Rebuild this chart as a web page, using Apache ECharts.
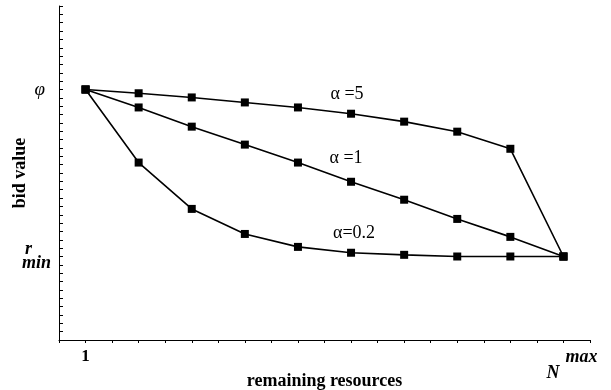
<!DOCTYPE html>
<html>
<head>
<meta charset="utf-8">
<script src="https://cdn.jsdelivr.net/npm/echarts@6/dist/echarts.min.js"></script>
<style>html,body{margin:0;padding:0;background:#fff}#c{width:611px;height:390px}</style>
</head>
<body>
<div id="c"></div>
<script>
var resources = [1, 2, 3, 4, 5, 6, 7, 8, 9, 10];
var alpha5  = [6, 5.91, 5.81, 5.69, 5.57, 5.42, 5.23, 4.99, 4.58, 2];
var alpha1  = [6, 5.57, 5.11, 4.68, 4.25, 3.79, 3.36, 2.90, 2.47, 2];
var alpha02 = [6, 4.25, 3.14, 2.54, 2.23, 2.09, 2.04, 2.0, 2.0, 2];
var seriesNames = ['α =5', 'α =1', 'α=0.2'];
var phiValue = 6, rminValue = 2;

var serif = '"Liberation Serif", "DejaVu Serif", serif';

function build(vals, name, offset) {
  return vals.map(function (v, i) {
    var d = { value: [resources[i], v] };
    if (i === 5) {
      d.label = {
        show: true, formatter: name, position: 'top', offset: offset,
        fontFamily: serif, fontSize: 18, color: '#000'
      };
    }
    return d;
  });
}

var chart = echarts.init(document.getElementById('c'), null, { renderer: 'canvas' });
function line(vals, name, offset) {
  return {
    type: 'line', name: name, data: build(vals, name, offset),
    symbol: 'rect', symbolSize: 8, showAllSymbol: true,
    lineStyle: { color: '#000', width: 1.6 },
    itemStyle: { color: '#000' },
    label: { show: false },
    emphasis: { disabled: true },
    animation: false
  };
}
chart.setOption({
  animation: false,
  grid: { left: 59, right: 21, top: 6, bottom: 50, containLabel: false, outerBoundsMode: 'none' },
  xAxis: {
    type: 'value', min: 0.5, max: 10.5, interval: 0.5,
    name: 'remaining resources', nameLocation: 'middle', nameGap: 32, nameMoveOverlap: false,
    nameTextStyle: { fontFamily: serif, fontWeight: 'bold', fontSize: 18, color: '#000' },
    axisLine: { lineStyle: { color: '#000', width: 1 } },
    axisTick: { show: true, length: 3, lineStyle: { color: '#000' } },
    splitLine: { show: false },
    axisLabel: {
      margin: 8, color: '#000', hideOverlap: false,
      formatter: function (v) {
        if (Math.abs(v - resources[0]) < 1e-6) return '{b|1}';
        if (Math.abs(v - resources[resources.length - 1]) < 1e-6) return '{n|N}{m|max}';
        return '';
      },
      rich: {
        b: { fontFamily: serif, fontWeight: 'bold', fontSize: 17, color: '#000' },
        n: { fontFamily: serif, fontWeight: 'bold', fontStyle: 'italic', fontSize: 18, color: '#000', padding: [16, 6, 0, 17] },
        m: { fontFamily: serif, fontWeight: 'bold', fontStyle: 'italic', fontSize: 18, color: '#000', padding: [0, 0, 15, 0] }
      }
    }
  },
  yAxis: {
    type: 'value', min: 0, max: 8, interval: 1,
    name: 'bid value', nameLocation: 'middle', nameGap: 30, nameMoveOverlap: false,
    nameTextStyle: { fontFamily: serif, fontWeight: 'bold', fontSize: 18, color: '#000' },
    axisLine: { show: true, lineStyle: { color: '#000', width: 1 } },
    axisTick: { show: true, inside: true, length: 4, lineStyle: { color: '#000' } },
    minorTick: { show: true, splitNumber: 5, length: 4, lineStyle: { color: '#000' } },
    splitLine: { show: false },
    axisLabel: {
      margin: 8, color: '#000', hideOverlap: false,
      formatter: function (v) {
        if (Math.abs(v - phiValue) < 1e-6) return '{p|φ}';
        if (Math.abs(v - rminValue) < 1e-6) return '{r|r}\n{m|min}';
        return '';
      },
      rich: {
        p: { fontFamily: serif, fontStyle: 'italic', fontSize: 19, color: '#000', padding: [0, 6, 0, 0] },
        r: { fontFamily: serif, fontWeight: 'bold', fontStyle: 'italic', fontSize: 18, color: '#000', lineHeight: 13, padding: [0, 19, 0, 0] },
        m: { fontFamily: serif, fontWeight: 'bold', fontStyle: 'italic', fontSize: 18, color: '#000', lineHeight: 15 }
      }
    }
  },
  series: [
    line(alpha5, seriesNames[0], [-4, -1]),
    line(alpha1, seriesNames[1], [-5, -6]),
    line(alpha02, seriesNames[2], [3, -1])
  ]
});
</script>
</body>
</html>
